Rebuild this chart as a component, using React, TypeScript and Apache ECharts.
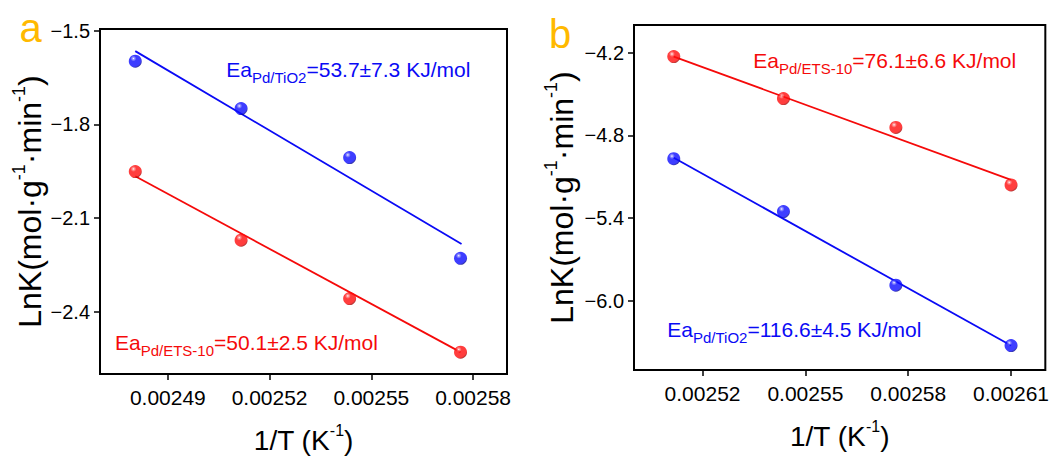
import React, { useEffect, useRef } from "react";
import * as echarts from "echarts";

// ---- data ----
const invT_a = [0.0024804, 0.0025116, 0.0025436, 0.0025763];
const lnK_a_TiO2 = [-1.597, -1.749, -1.906, -2.229];
const lnK_a_ETS = [-1.951, -2.171, -2.358, -2.53];
const fitX_a_TiO2 = [0.0024804, 0.0025766];
const fitY_a_TiO2 = [-1.565, -2.183];
const fitX_a_ETS = [0.0024804, 0.0025763];
const fitY_a_ETS = [-1.966, -2.53];

const invT_b = [0.0025116, 0.0025436, 0.0025764, 0.00261];
const lnK_b_ETS = [-4.229, -4.533, -4.742, -5.159];
const lnK_b_TiO2 = [-4.969, -5.352, -5.885, -6.323];
const fitX_b_ETS = [0.0025116, 0.00261];
const fitY_b_ETS = [-4.229, -5.122];
const fitX_b_TiO2 = [0.0025116, 0.00261];
const fitY_b_TiO2 = [-4.962, -6.323];

const xTicks_a = [0.00249, 0.00252, 0.00255, 0.00258];
const yTicks_a = [-1.5, -1.8, -2.1, -2.4];
const xTicks_b = [0.00252, 0.00255, 0.00258, 0.00261];
const yTicks_b = [-4.2, -4.8, -5.4, -6.0];

const labels = {
  aTiO2: ["Ea", "Pd/TiO2", "=53.7±7.3 KJ/mol"],
  aETS: ["Ea", "Pd/ETS-10", "=50.1±2.5 KJ/mol"],
  bETS: ["Ea", "Pd/ETS-10", "=76.1±6.6 KJ/mol"],
  bTiO2: ["Ea", "Pd/TiO2", "=116.6±4.5 KJ/mol"],
};

const FONT = "Arial, 'Liberation Sans', sans-serif";
const BLUE = "#0a0af5";
const RED = "#f50a0a";
const ORANGE = "#FFB900";

const zip = (xs: number[], ys: number[]) => xs.map((x, i) => [x, ys[i]]);

const ball = (light: string, base: string, dark: string) =>
  new echarts.graphic.RadialGradient(0.36, 0.3, 0.75, [
    { offset: 0, color: "#ffffff" },
    { offset: 0.1, color: light },
    { offset: 0.3, color: base },
    { offset: 0.8, color: base },
    { offset: 1, color: dark },
  ]);

function xAxis(gridIndex: number, min: number, max: number, ticks: number[]) {
  return {
    type: "value",
    gridIndex,
    min,
    max,
    axisLine: { show: false },
    splitLine: { show: false },
    axisTick: {
      show: true,
      inside: false,
      length: 6,
      customValues: ticks,
      lineStyle: { color: "#000", width: 1.5 },
    },
    axisLabel: {
      customValues: ticks,
      margin: 10,
      color: "#000",
      fontSize: 21,
      fontFamily: FONT,
      formatter: (v: number) => `{t|${v.toFixed(5)}}`,
      rich: { t: { fontSize: 21, lineHeight: 26, fontFamily: FONT, color: "#000" } },
    },
    name: "{n|1/T (K}{s|-1}{n|)}",
    nameLocation: "middle",
    nameGap: 48,
    nameTextStyle: {
      color: "#000",
      fontFamily: FONT,
      rich: {
        n: { fontSize: 28, lineHeight: 36, fontFamily: FONT, color: "#000" },
        s: { fontSize: 16, lineHeight: 16, verticalAlign: "top", fontFamily: FONT, color: "#000" },
      },
    },
  };
}

function yAxis(gridIndex: number, min: number, max: number, ticks: number[], gap: number) {
  return {
    type: "value",
    gridIndex,
    min,
    max,
    axisLine: { show: false },
    splitLine: { show: false },
    axisTick: {
      show: true,
      inside: false,
      length: 6,
      customValues: ticks,
      lineStyle: { color: "#000", width: 1.5 },
    },
    axisLabel: {
      customValues: ticks,
      margin: 10,
      color: "#000",
      fontSize: 20,
      fontFamily: FONT,
      formatter: (v: number) => `{t|${v.toFixed(1).replace("-", "\u2212")}}`,
      rich: { t: { fontSize: 20, lineHeight: 24, fontFamily: FONT, color: "#000" } },
    },
    name: "{n|LnK(mol·g}{s|-1}{n|·min}{s|-1}{n|)}",
    nameLocation: "middle",
    nameGap: gap,
    nameTextStyle: {
      color: "#000",
      fontFamily: FONT,
      rich: {
        n: { fontSize: 32, lineHeight: 40, fontFamily: FONT, color: "#000" },
        s: { fontSize: 18, lineHeight: 18, verticalAlign: "top", fontFamily: FONT, color: "#000" },
      },
    },
  };
}

function eaText(parts: string[], left: number, baseline: number, color: string) {
  return {
    type: "text",
    x: left - 1.7,
    y: baseline - 22.4,
    style: {
      text: `{n|${parts[0]}}{s|${parts[1]}}{n|${parts[2]}}`,
      fill: color,
      font: `21px ${FONT}`,
      verticalAlign: "top",
      align: "left",
      rich: {
        n: { fontSize: 21, lineHeight: 30, fontFamily: FONT, fill: color, color },
        s: { fontSize: 15, lineHeight: 14, verticalAlign: "bottom", fontFamily: FONT, fill: color, color },
      },
    },
  };
}

function scatter(x: number, y: number, data: number[][], grad: any) {
  return {
    type: "scatter",
    xAxisIndex: x,
    yAxisIndex: y,
    data,
    symbol: "circle",
    symbolSize: 13,
    z: 5,
    itemStyle: { color: grad, borderWidth: 0 },
  };
}

function fit(x: number, y: number, data: number[][], color: string) {
  return {
    type: "line",
    xAxisIndex: x,
    yAxisIndex: y,
    data,
    symbol: "none",
    z: 3,
    lineStyle: { color, width: 1.8 },
  };
}

export default function App() {
  const ref = useRef<HTMLDivElement>(null);
  useEffect(() => {
    if (!ref.current) return;
    const chart = echarts.init(ref.current, null, { renderer: "svg" });
    const blueBall = () => ball("#8a8aff", "#0d0dff", "#00007a");
    const redBall = () => ball("#ff8a8a", "#ff0d0d", "#8a0000");
    chart.setOption({
      animation: false,
      backgroundColor: "#fff",
      grid: [
        { left: 100, top: 29, width: 407, height: 345, show: true, borderColor: "#000", borderWidth: 2, backgroundColor: "transparent" },
        { left: 634, top: 25, width: 412, height: 345, show: true, borderColor: "#000", borderWidth: 2, backgroundColor: "transparent" },
      ],
      xAxis: [xAxis(0, 0.00247, 0.00259, xTicks_a), xAxis(1, 0.0025, 0.00262, xTicks_b)],
      yAxis: [yAxis(0, -2.6, -1.494, yTicks_a, 50), yAxis(1, -6.5, -4.0, yTicks_b, 52)],
      series: [
        fit(0, 0, zip(fitX_a_TiO2, fitY_a_TiO2), BLUE),
        fit(0, 0, zip(fitX_a_ETS, fitY_a_ETS), RED),
        scatter(0, 0, zip(invT_a, lnK_a_TiO2), blueBall()),
        scatter(0, 0, zip(invT_a, lnK_a_ETS), redBall()),
        fit(1, 1, zip(fitX_b_ETS, fitY_b_ETS), RED),
        fit(1, 1, zip(fitX_b_TiO2, fitY_b_TiO2), BLUE),
        scatter(1, 1, zip(invT_b, lnK_b_ETS), redBall()),
        scatter(1, 1, zip(invT_b, lnK_b_TiO2), blueBall()),
      ],
      graphic: [
        { type: "text", x: 19.5, y: 27.5, style: { text: "a", fill: ORANGE, font: `40px ${FONT}`, verticalAlign: "middle", align: "left" } },
        { type: "text", x: 549, y: 34, style: { text: "b", fill: ORANGE, font: `40px ${FONT}`, verticalAlign: "middle", align: "left" } },
        eaText(labels.aTiO2, 228, 77, BLUE),
        eaText(labels.aETS, 116.7, 350, RED),
        eaText(labels.bETS, 755, 68, RED),
        eaText(labels.bTiO2, 669, 337, BLUE),
      ],
    });
    return () => chart.dispose();
  }, []);
  return (
    <div
      ref={ref}
      style={{ position: "absolute", left: 0, top: 0, width: 1052, height: 459 }}
    />
  );
}
